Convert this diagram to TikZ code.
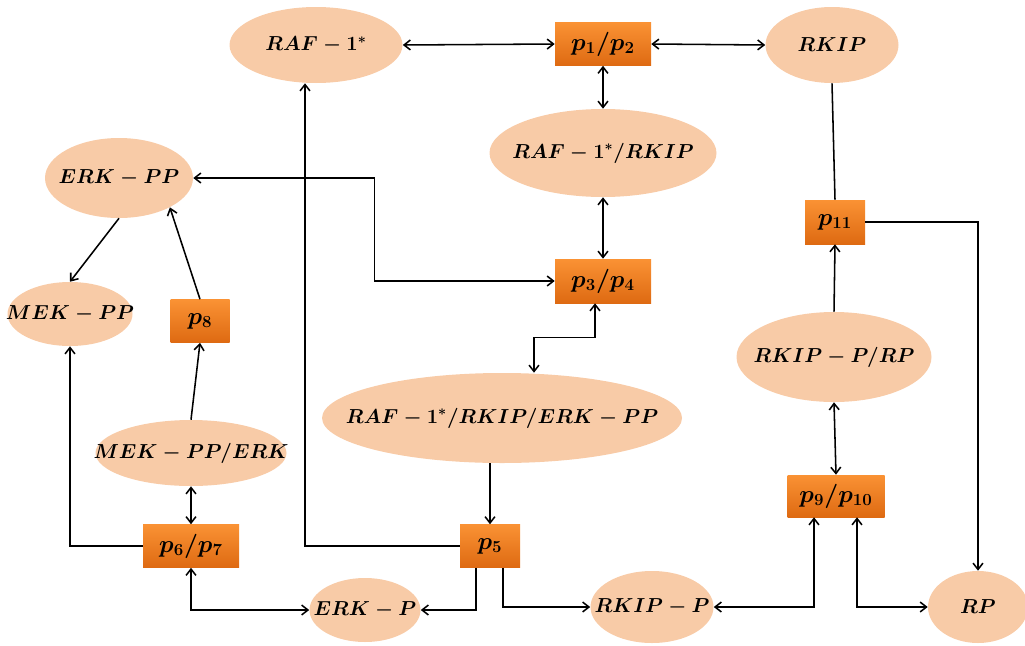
\documentclass[tikz,border=0pt]{standalone}
\usepackage{amsmath}
\usepackage{amssymb}
\usepackage{tikz}
\usetikzlibrary{arrows.meta, shapes.geometric}
\definecolor{peach}{RGB}{248,203,167}
\definecolor{orgtop}{RGB}{250,146,52}
\definecolor{orgbot}{RGB}{222,106,18}
\newcommand{\ctr}[1]{\makebox[0pt]{$#1$}}
\tikzset{
    snode/.style 2 args={ellipse,fill=peach,inner sep=0pt,font=\boldmath\Large,
        minimum width={#1*0.025cm},minimum height={#2*0.025cm}},
    rnode/.style 2 args={rectangle,top color=orgtop,bottom color=orgbot,inner sep=0pt,
        font=\boldmath\LARGE,minimum width={#1*0.025cm},minimum height={#2*0.025cm}},
    conn/.style={line width=1.1pt},
    pathway/.style={
        every edge/.style={draw,conn},
        >={Straight Barb[length=4.5pt,width=7pt]},
    }
}

\begin{document}
\begin{tikzpicture}[x=0.025cm,y=-0.025cm,pathway]
\useasboundingbox (0,0) rectangle (1025,645);
% species
\node[snode={173}{76}] (raf) at (316,45) {\ctr{RAF-1^{*}}};
\node[snode={133}{76}] (rkip) at (832,45) {\ctr{RKIP}};
\node[snode={227}{88}] (rafrkip) at (603,153) {\ctr{RAF-1^{*}/RKIP}};
\node[snode={148}{80}] (erkpp) at (119,178) {\ctr{ERK-PP}};
\node[snode={125}{64}] (mekpp) at (70,314) {\ctr{MEK-PP}};
\node[snode={360}{90}] (rre) at (502,418) {\ctr{RAF-1^{*}/RKIP/ERK-PP}};
\node[snode={195}{90}] (rkipprp) at (834,357) {\ctr{RKIP-P/RP}};
\node[snode={191}{66}] (mekerk) at (191,453) {\ctr{MEK-PP/ERK}};
\node[snode={111}{64}] (erkp) at (365,610) {\ctr{ERK-P}};
\node[snode={123}{72}] (rkipp) at (652,607) {\ctr{RKIP-P}};
\node[snode={100}{72}] (rp) at (978,607) {\ctr{RP}};
% reactions
\node[rnode={96}{43}] (p12) at (603,44) {$p_1/p_2$};
\node[rnode={96}{44}] (p34) at (603,281) {$p_3/p_4$};
\node[rnode={60}{44}] (p11) at (835,222) {$p_{11}$};
\node[rnode={59}{43}] (p8) at (200,321) {$p_8$};
\node[rnode={97}{42}] (p910) at (836,496) {$p_9/p_{10}$};
\node[rnode={96}{43}] (p67) at (191,546) {$p_6/p_7$};
\node[rnode={60}{43}] (p5) at (490,546) {$p_5$};
\path
    (raf.east) edge[<->] (p12.west)
    (p12.east) edge[<->] (rkip.west)
    (p12.south) edge[<->] (rafrkip.north)
    (rafrkip.south) edge[<->] (p34.north)
    (rkip.south) edge (p11.north)
    (rkipprp.north) edge[->] (p11.south)
    (rkipprp.south) edge[<->] (p910.north)
    (rre.south -| p5.north) edge[->] (p5.north)
    (mekerk.south) edge[<->] (p67.north)
    (mekerk.north) edge[->] (p8.south)
    (p8.north) edge[->] (erkpp.-30)
    (erkpp.south) edge[->] (mekpp.north)
;
% elbow connectors
\draw[conn,<->] (erkpp.east) -- ++(181,0) |- (p34.west);
\draw[conn,<->] ([xshift=-0.2cm]p34.south) -- ++(0,34) -| ([xshift=0.8cm]rre.north);
\draw[conn,->] (p5.west) -| ([xshift=-0.275cm]raf.south);
\draw[conn,->] ([xshift=-0.35cm]p5.south) |- (erkp.east);
\draw[conn,->] ([xshift=0.325cm]p5.south) |- (rkipp.west);
\draw[conn,<->] (erkp.west) -| (p67.south);
\draw[conn,->] (p67.west) -| (mekpp.south);
\draw[conn,<->] (rkipp.east) -| ([xshift=-0.55cm]p910.south);
\draw[conn,<->] ([xshift=0.525cm]p910.south) |- (rp.west);
\draw[conn,->] (p11.east) -| (rp.north);
\end{tikzpicture}
\end{document}
